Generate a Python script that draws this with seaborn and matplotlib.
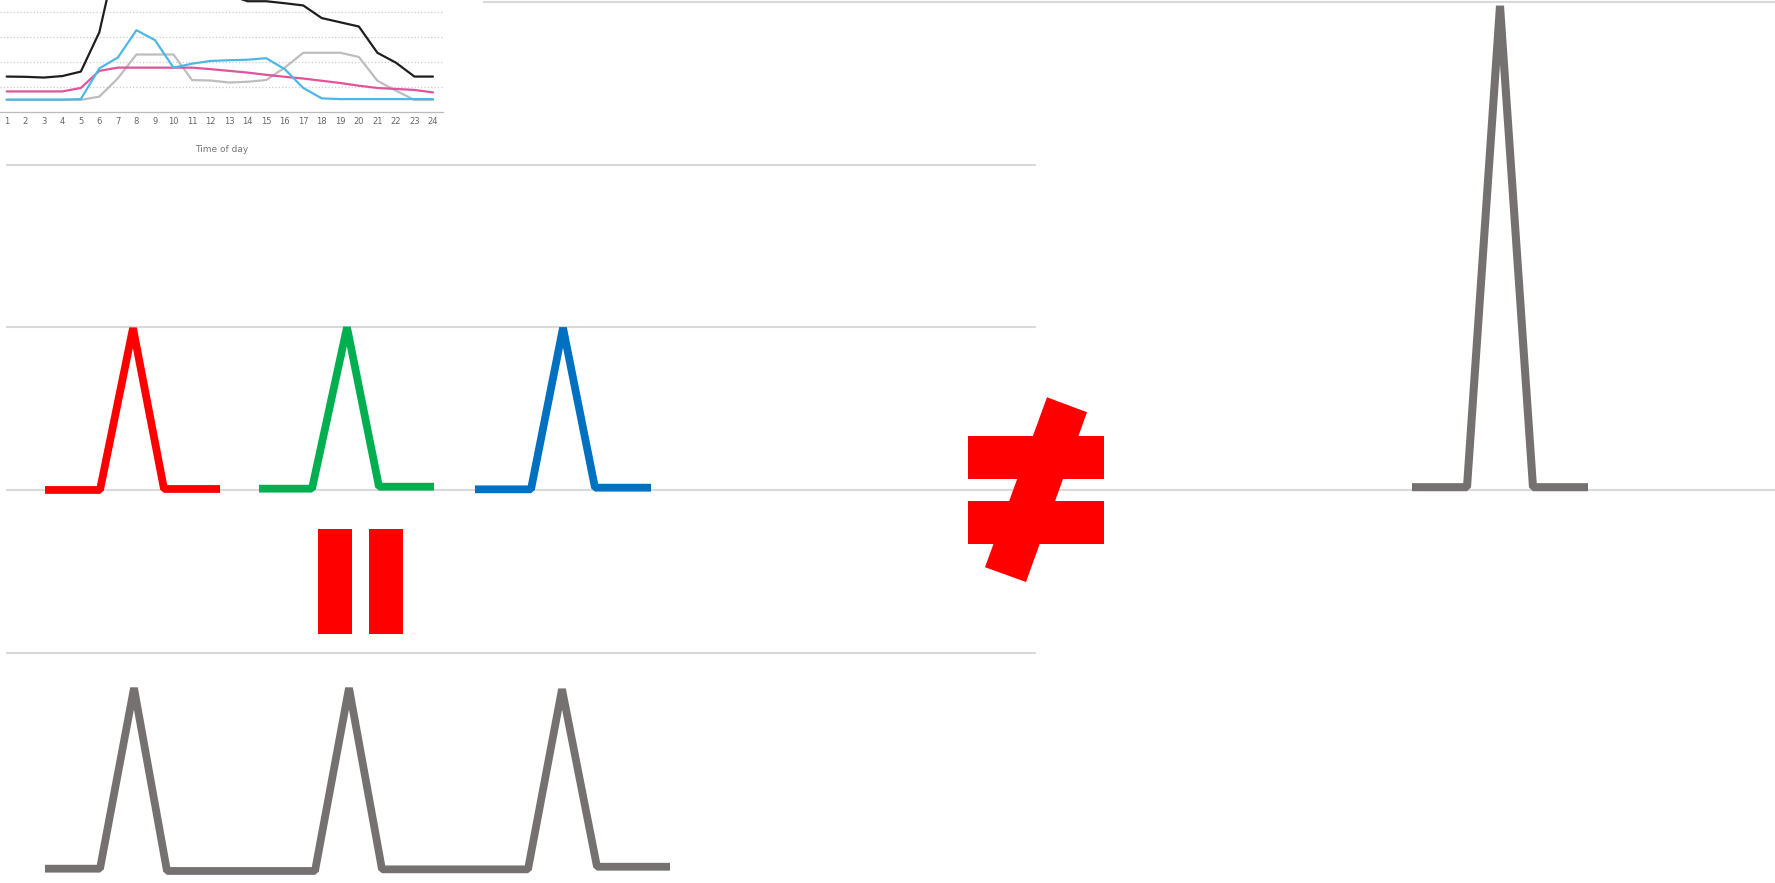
import numpy as np
import seaborn as sns
import matplotlib.pyplot as plt
from matplotlib.patches import Rectangle, Polygon

# --- petit graphe en haut a gauche : profils journaliers (unites = lignes de grille)
hours = list(range(1, 25))
black_vals = [1.41, 1.40, 1.37, 1.43, 1.61, 3.2, 6.5, 7.0, 7.0, 6.8, 6.4, 5.8,
              4.7, 4.45, 4.45, 4.37, 4.28, 3.77, 3.6, 3.43, 2.37, 1.97, 1.41, 1.41]
blue_vals = [0.48, 0.48, 0.48, 0.48, 0.5, 1.74, 2.18, 3.28, 2.88, 1.77, 1.93, 2.04,
             2.07, 2.09, 2.15, 1.71, 0.95, 0.53, 0.5, 0.5, 0.5, 0.5, 0.5, 0.5]
gray_vals = [0.47, 0.47, 0.47, 0.47, 0.47, 0.6, 1.34, 2.3, 2.3, 2.3, 1.27, 1.25,
             1.17, 1.2, 1.27, 1.77, 2.37, 2.37, 2.37, 2.2, 1.24, 0.84, 0.47, 0.47]
pink_vals = [0.81, 0.81, 0.81, 0.81, 0.95, 1.64, 1.77, 1.77, 1.77, 1.77, 1.77, 1.71,
             1.64, 1.57, 1.48, 1.4, 1.33, 1.24, 1.15, 1.04, 0.95, 0.91, 0.87, 0.77]
inset_grid = [1, 2, 3, 4]

# --- grand schema : x = position, y = niveau (0 = ligne centrale)
red_x = [45, 100, 133, 164, 220]
red_y = [0.0, 0.0, 0.995, 0.006, 0.006]
green_x = [259, 312, 347, 379, 434]
green_y = [0.008, 0.008, 1.0, 0.02, 0.02]
blue_x = [475, 531, 563, 595, 651]
blue_y = [0.004, 0.004, 0.997, 0.014, 0.014]
sum_x = [45, 100, 134, 167, 315, 349, 382, 528, 562, 597, 670]
sum_y = [-2.329, -2.329, -1.218, -2.343, -2.343, -1.218, -2.333, -2.333, -1.225, -2.317, -2.317]
spike_x = [1412, 1467, 1500, 1533, 1588]
spike_y = [0.017, 0.017, 2.977, 0.017, 0.017]

grid_levels = [3, 2, 1, 0, -1]
grid_start = [483, 6, 6, 6, 6]
grid_end = [1775, 1036, 1036, 1775, 1036]

sns.set_style("white")

fig = plt.figure(figsize=(17.75, 8.83), dpi=100)
ax = fig.add_axes([0, 0, 1, 1])
ax.axis("off")

ax.hlines(grid_levels, grid_start, grid_end, color="#d9d9d9", lw=1.5, zorder=1)

traces = [
    (red_x, red_y, "#ff0000", 5.6),
    (green_x, green_y, "#00b050", 5.6),
    (blue_x, blue_y, "#0070c0", 5.6),
    (sum_x, sum_y, "#767171", 5.6),
    (spike_x, spike_y, "#767171", 5.8),
]
for xs, ys, c, w in traces:
    sns.lineplot(x=xs, y=ys, ax=ax, color=c, lw=w, sort=False, estimator=None,
                 solid_joinstyle="bevel", solid_capstyle="butt", zorder=3)

# signe "=" (pivote) et signe "≠"
red = "#ff0000"
ax.add_patch(Rectangle((318, -0.886), 34, 0.648, color=red, lw=0, zorder=4))
ax.add_patch(Rectangle((369, -0.886), 34, 0.648, color=red, lw=0, zorder=4))
ax.add_patch(Rectangle((968, 0.068), 136, 0.266, color=red, lw=0, zorder=4))
ax.add_patch(Rectangle((968, -0.332), 136, 0.266, color=red, lw=0, zorder=4))
ax.add_patch(Polygon([(1047, 0.570), (1087, 0.478), (1026, -0.566), (985, -0.475)],
                     closed=True, color=red, lw=0, zorder=4))

ax.set_xlim(0, 1775)
ax.set_ylim(-2.417, 3.013)

# petit graphe
ax_in = fig.add_axes([0, 1 - 111.5 / 883, 443 / 1775, 111.5 / 883])
ax_in.set_facecolor("none")
for vals, c in [(gray_vals, "#bdbdbd"), (pink_vals, "#e2539b"),
                (blue_vals, "#4db8e8"), (black_vals, "#1e1e1e")]:
    sns.lineplot(x=hours, y=vals, ax=ax_in, color=c, lw=1.6)
ax_in.hlines(inset_grid, 0.64, 24.54, color="#cccccc", lw=0.9, linestyles=":", zorder=0)
ax_in.set_xlim(0.64, 24.54)
ax_in.set_ylim(0, 4.5)
ax_in.set_yticks([])
ax_in.set_xticks(hours)
ax_in.set_xticklabels([str(h) for h in hours], fontsize=6, color="#666666")
ax_in.set_xticks(np.arange(1.45, 24.6, 1), minor=True)
ax_in.tick_params(axis="x", which="major", length=0, pad=4)
ax_in.tick_params(axis="x", which="minor", length=4, color="#bbbbbb", width=0.8)
for s in ["top", "left", "right"]:
    ax_in.spines[s].set_visible(False)
ax_in.spines["bottom"].set_color("#bbbbbb")
ax_in.spines["bottom"].set_linewidth(0.9)
ax_in.set_xlabel("Time of day", fontsize=6.5, color="#777777", labelpad=14)
ax_in.set_ylabel("")

fig.savefig("out.png", dpi=100)
